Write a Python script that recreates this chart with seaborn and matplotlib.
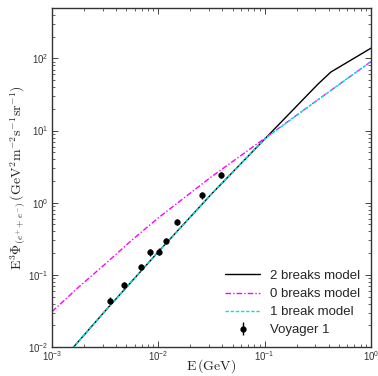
import numpy as np
import pandas as pd
import matplotlib
matplotlib.use("Agg")
import matplotlib.pyplot as plt
import seaborn as sns

# model curves (log10 E, log10 E^3 Phi)
logE_2b = [-3.0, -2.5, -2.0, -1.5, -1.0, -0.5, -0.377, 0.0]
logF_2b = [-2.34, -1.50, -0.68, 0.12, 0.88, 1.64, 1.81, 2.14]

logE_0b = [-3.0, -2.75, -2.5, -2.25, -2.0, -1.5, -1.0, -0.5, 0.0]
logF_0b = [-1.51, -1.17, -0.85, -0.52, -0.21, 0.36, 0.89, 1.425, 1.955]

logE_1b = [-3.0, -2.5, -2.0, -1.5, -1.0, -0.9, -0.5, 0.0]
logF_1b = [-2.34, -1.50, -0.68, 0.12, 0.88, 0.99, 1.425, 1.955]

# Voyager 1 points
voy_E = [0.00352, 0.00477, 0.00692, 0.0084, 0.0102, 0.0119, 0.0151, 0.026, 0.0393]
voy_F = [0.044, 0.072, 0.13, 0.205, 0.21, 0.295, 0.54, 1.27, 2.45]
voy_err = [0.005, 0.008, 0.013, 0.022, 0.022, 0.03, 0.055, 0.13, 0.25]

sns.set_style("ticks")
plt.rcParams["mathtext.fontset"] = "cm"
plt.rcParams["font.family"] = ["Liberation Sans", "DejaVu Sans"]

fig = plt.figure(figsize=(3.78, 3.76), dpi=100)
ax = fig.add_axes([0.1376, 0.077, 0.8436, 0.902])

def curve(le, lf):
    return pd.DataFrame({"E": 10 ** np.array(le), "F": 10 ** np.array(lf)})

sns.lineplot(data=curve(logE_2b, logF_2b), x="E", y="F", color="black", lw=1.0,
             estimator=None, sort=False, ax=ax, label="2 breaks model")
sns.lineplot(data=curve(logE_0b, logF_0b), x="E", y="F", color="#ff00ff", lw=1.0,
             dashes=False, estimator=None, sort=False, ax=ax, label="0 breaks model")
sns.lineplot(data=curve(logE_1b, logF_1b), x="E", y="F", color="#00e5e5", lw=1.0,
             dashes=False, estimator=None, sort=False, ax=ax, label="1 break model")
ax.lines[1].set_dashes([4, 1.5, 1, 1.5])
ax.lines[2].set_dashes([2.5, 1.2])
ax.errorbar(voy_E, voy_F, yerr=voy_err, fmt="o", color="k", ms=3.5,
            elinewidth=1.0, capsize=0, label="Voyager 1")

ax.set_xscale("log")
ax.set_yscale("log")
ax.set_xlim(1e-3, 1)
ax.set_ylim(1e-2, 5e2)

ax.set_xlabel(r"$\mathrm{E\,(GeV)}$", fontsize=10, labelpad=-4)
ax.set_ylabel(r"$\mathrm{E}^3\Phi_{(e^{+}+e^{-})}\,(\mathrm{GeV}^2\mathrm{m}^{-2}\mathrm{s}^{-1}\mathrm{sr}^{-1})$",
              fontsize=10, labelpad=0)

ax.tick_params(which="both", direction="in", top=True, right=True, labelsize=7, pad=1.5,
               labelcolor="#333333")
ax.tick_params(axis="y", which="both", pad=2.5)
ax.tick_params(which="major", length=4, width=0.6)
ax.tick_params(which="minor", length=2, width=0.5)
for s in ax.spines.values():
    s.set_linewidth(1.0)
    s.set_color("#333333")

leg = ax.legend(loc="lower right", frameon=False, fontsize=9.5, handlelength=2.6,
                borderaxespad=0.4, labelspacing=0.45)
leg.get_lines()[1].set_dashes([4, 1.5, 1, 1.5])
leg.get_lines()[2].set_dashes([2.5, 1.2])

fig.savefig("out.png", dpi=100)
